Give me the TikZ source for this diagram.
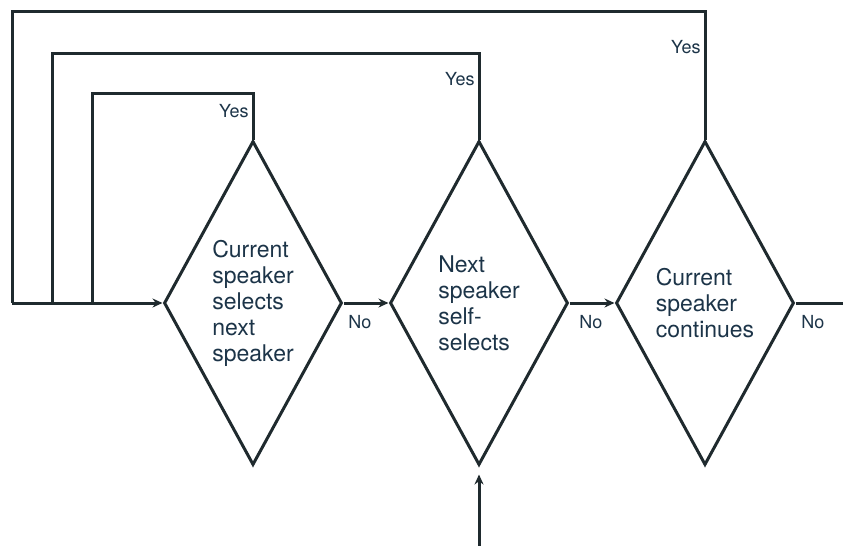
\documentclass[tikz,border=0pt]{standalone}
\usepackage{fontspec}
\setmainfont{TeX Gyre Heros}
\usetikzlibrary{arrows, arrows.meta}
\usetikzlibrary{shapes.geometric}

\definecolor{linecol}{HTML}{1F2A2E}
\definecolor{textcol}{HTML}{1C3448}

\begin{document}
\begin{tikzpicture}[x=0.5pt, y=-0.5pt, line width=1.5pt, draw=linecol,
    decision/.style={diamond, draw, aspect=0.545, inner sep=0pt,
      minimum width=89pt, minimum height=162pt, align=left,
      text=textcol, font=\fontsize{11.5}{13}\selectfont},
    lbl/.style={text=textcol, inner sep=1pt, font=\fontsize{9}{10}\selectfont},
    flow/.style={-{Stealth[length=5pt, width=4.5pt]}}]
    \useasboundingbox (0,0) rectangle (843,546);

    \node[decision] (1) at (253,303) {Current\\speaker\\selects\\next\\speaker};
    \node[decision] (2) at (479,303) {Next\\speaker\\self-\\selects};
    \node[decision] (3) at (705,303) {Current\\speaker\\continues};

    \coordinate (s) at (12,303);
    \coordinate (j2) at (52,303);
    \coordinate (j1) at (92,303);
    \coordinate (out) at (843,303);
    \coordinate (in) at (479,546);

    \draw[flow] (s) -- (1.west);
    \draw[flow] (1.east) -- (2.west);
    \draw[flow] (2.east) -- (3.west);
    \draw (3.east) -- (out);
    \draw[flow, shorten >=4pt] (in) -- (2.south);

    % yes loops back to the start line
    \draw (1.north) -- ++(0,-46) -| (j1);
    \draw (2.north) -- ++(0,-86) -| (j2);
    \draw (3.north) -- ++(0,-128) -| (s);

    \node[lbl, left] (y1) at (252,111) {Yes};
    \node[lbl, left] (y2) at (478,79) {Yes};
    \node[lbl, left] (y3) at (704,47) {Yes};

    \node[lbl] (n1) at (360,322) {No};
    \node[lbl] (n2) at (591,322) {No};
    \node[lbl] (n3) at (813,322) {No};
  \end{tikzpicture}
\end{document}
